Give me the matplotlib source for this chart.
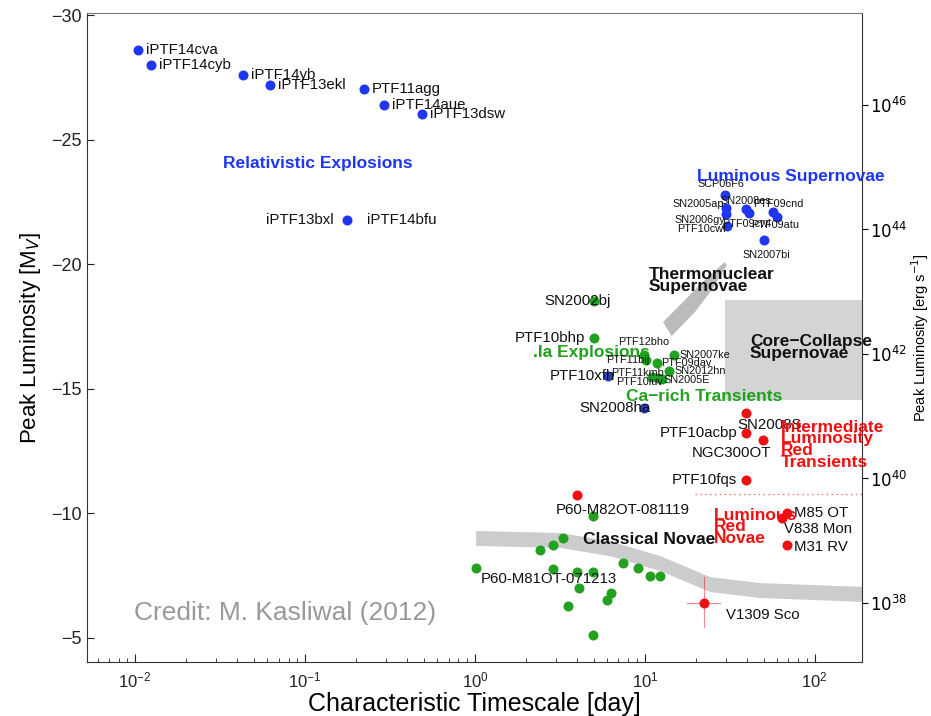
import matplotlib
matplotlib.use('Agg')
import matplotlib.pyplot as plt
import numpy as np

plt.rcParams['font.family'] = ['Liberation Sans', 'DejaVu Sans']

BLUE = '#1f36f2'
GREEN = '#21a11f'
RED = '#f01010'

# relativistic explosions (blue)
rel_names = ['iPTF14cva', 'iPTF14cyb', 'iPTF14yb', 'iPTF13ekl', 'PTF11agg', 'iPTF14aue', 'iPTF13dsw', 'iPTF14bfu']
rel_t = [0.0104, 0.0124, 0.0432, 0.0622, 0.222, 0.292, 0.488, 0.177]
rel_m = [-28.59, -27.99, -27.59, -27.19, -27.03, -26.39, -26.02, -21.77]

# luminous supernovae (blue)
lsn_names = ['SCP06F6', 'SN2005ap', 'SN2006gy', 'PTF10cwr', 'SN2008es', 'PTF09cwl', 'PTF09cnd', 'PTF09atu', 'SN2007bi']
lsn_t = [29.6, 29.9, 30.2, 30.4, 39.3, 40.9, 56.6, 59.7, 50.1]
lsn_m = [-22.77, -22.25, -22.0, -21.53, -22.21, -22.05, -22.09, -21.89, -20.96]

# .Ia explosions and Ca-rich transients (green)
ia_names = ['SN2002bj', 'PTF10bhp', 'PTF12bho', 'PTF11bij', 'PTF09dav', 'SN2007ke', 'SN2012hn', 'PTF11kmb', 'PTF10iuv', 'SN2005E']
ia_t = [5.01, 5.01, 9.86, 10.1, 11.8, 14.8, 13.8, 11.1, 11.9, 12.7]
ia_m = [-18.51, -17.03, -16.35, -16.14, -16.02, -16.35, -15.70, -15.46, -15.42, -15.38]

# other blue points
oth_names = ['PTF10xfh', 'SN2008ha']
oth_t = [6.06, 9.86]
oth_m = [-15.50, -14.22]

# red transients
red_names = ['SN2008S', 'PTF10acbp', 'NGC300OT', 'PTF10fqs', 'M85 OT', 'V838 Mon', 'M31 RV', 'P60-M82OT-081119', 'V1309 Sco']
red_t = [39.3, 39.3, 49.4, 39.3, 68.4, 63.9, 68.4, 3.98, 22.2]
red_m = [-14.02, -13.21, -12.93, -11.33, -10.0, -9.8, -8.71, -10.72, -6.39]

# V1309 Sco error bars
v1309_t_range = [17.7, 27.6]
v1309_m_range = [-7.43, -5.42]

# classical novae (green)
nova_t = [4.94, 3.29, 2.88, 2.41, 1.01, 2.88, 3.98, 4.94, 7.42, 9.1, 10.8, 12.3, 4.09, 6.31, 5.97, 3.52, 4.94]
nova_m = [-9.88, -9.0, -8.71, -8.51, -7.79, -7.75, -7.63, -7.63, -7.99, -7.79, -7.47, -7.47, -6.99, -6.79, -6.51, -6.27, -5.10]

# shaded regions
novae_band_t = [1.01, 3.16, 6.22, 12.3, 24.1, 47.5, 200]
novae_band_m = [-9.0, -8.92, -8.59, -7.99, -7.15, -6.91, -6.75]
thermo_t = [12.8, 17.2, 22.5, 29.5, 30.4, 24.8, 19.7, 14.4]
thermo_m = [-17.67, -18.55, -19.36, -20.08, -19.96, -18.96, -18.07, -17.11]
cc_t = [29.5, 200]
cc_m = [-18.55, -14.54]
lrn_line_t = [19.7, 200]
lrn_line_m = -10.76

fig = plt.figure(figsize=(9.31, 7.16), dpi=100)
ax = fig.add_axes([0.0934, 0.0754, 0.8325, 0.9064])
ax.set_xscale('log')
ax.set_xlim(0.0052, 190)
ax.set_ylim(-4.02, -30.08)

# gray regions
ax.fill_between(novae_band_t, np.array(novae_band_m) - 0.3, np.array(novae_band_m) + 0.3,
                color='#cccccc', lw=0, zorder=1)
ax.fill(thermo_t, thermo_m, color='#bbbbbb', lw=0, zorder=1)
ax.fill_between(cc_t, cc_m[0], cc_m[1], color='#d4d4d4', lw=0, zorder=1)
ax.plot(lrn_line_t, [lrn_line_m, lrn_line_m], ls=(0, (1, 2.5)), color=RED, lw=1, alpha=0.6, zorder=1)

ms = 52
ax.scatter(rel_t, rel_m, s=ms, color=BLUE, zorder=3, lw=0)
ax.scatter(lsn_t, lsn_m, s=ms, color=BLUE, zorder=3, lw=0)
ax.scatter(ia_t, ia_m, s=ms, color=GREEN, zorder=3, lw=0)
ax.scatter(oth_t, oth_m, s=ms, color='#2a3ccc', zorder=3, lw=0)
ax.scatter(nova_t, nova_m, s=ms, color=GREEN, zorder=3, lw=0)
ax.scatter(red_t, red_m, s=ms, color=RED, zorder=3, lw=0)
ax.plot(v1309_t_range, [red_m[-1]] * 2, color=RED, lw=0.8, alpha=0.5, zorder=2)
ax.plot([red_t[-1]] * 2, v1309_m_range, color=RED, lw=0.8, alpha=0.5, zorder=2)

def lab(name, t, m, dx, dy, ha='left', fs=10.8):
    ax.annotate(name, (t, m), xytext=(dx, dy), textcoords='offset points',
                ha=ha, va='center', fontsize=fs, color='#111111', zorder=4)

# relativistic labels
for n, t, m in zip(rel_names[:-1], rel_t[:-1], rel_m[:-1]):
    lab(n, t, m, 6, 0)
lab('iPTF14bfu', rel_t[-1], rel_m[-1], 14, 0)
lab('iPTF13bxl', rel_t[-1], rel_m[-1], -10, 0, ha='right')

# luminous SN labels
sfs = 7.8
lab('SCP06F6', lsn_t[0], lsn_m[0], -3, 8, ha='center', fs=sfs)
lab('SN2005ap', lsn_t[1], lsn_m[1], -1, 3, ha='right', fs=sfs)
lab('SN2006gy', lsn_t[2], lsn_m[2], -1, -4, ha='right', fs=sfs)
lab('PTF10cwr', lsn_t[3], lsn_m[3], 0, -2, ha='right', fs=sfs)
lab('SN2008es', lsn_t[4], lsn_m[4], 0, 6, ha='center', fs=sfs)
lab('PTF09cwl', lsn_t[5], lsn_m[5], -2, -8, ha='center', fs=sfs)
lab('PTF09cnd', lsn_t[6], lsn_m[6], 4, 6, ha='center', fs=sfs)
lab('PTF09atu', lsn_t[7], lsn_m[7], -1, -6, ha='center', fs=sfs)
lab('SN2007bi', lsn_t[8], lsn_m[8], 2, -11, ha='center', fs=sfs)

# .Ia / Ca-rich labels
lab('SN2002bj', ia_t[0], ia_m[0], 12, 0, ha='right')
lab('PTF10bhp', ia_t[1], ia_m[1], -6, 0, ha='right')
lab('PTF12bho', ia_t[2], ia_m[2], 0, 9, ha='center', fs=sfs)
lab('PTF11bij', ia_t[3], ia_m[3], 3, 0, ha='right', fs=sfs)
lab('PTF09dav', ia_t[4], ia_m[4], 3, 0, fs=sfs)
lab('SN2007ke', ia_t[5], ia_m[5], 4, 0, fs=sfs)
lab('SN2012hn', ia_t[6], ia_m[6], 4, 0, fs=sfs)
lab('PTF11kmb', ia_t[7], ia_m[7], 8, 3, ha='right', fs=sfs)
lab('PTF10iuv', ia_t[8], ia_m[8], 4, -3, ha='right', fs=sfs)
lab('SN2005E', ia_t[9], ia_m[9], 1, -1, fs=sfs)
lab('PTF10xfh', oth_t[0], oth_m[0], 5, 0, ha='right')
lab('SN2008ha', oth_t[1], oth_m[1], 5, 0, ha='right')

# red labels
lab('SN2008S', red_t[0], red_m[0], -6, -9)
lab('PTF10acbp', red_t[1], red_m[1], -6, 0, ha='right')
lab('NGC300OT', red_t[2], red_m[2], 6, -9, ha='right')
lab('PTF10fqs', red_t[3], red_m[3], -6, 0, ha='right')
lab('M85 OT', red_t[4], red_m[4], 5, 0)
lab('V838 Mon', red_t[5], red_m[5], 2, -8)
lab('M31 RV', red_t[6], red_m[6], 5, -1)
lab('P60-M82OT-081119', red_t[7], red_m[7], -15, -11)
lab('V1309 Sco', red_t[8], red_m[8], 16, -9)
lab('P60-M81OT-071213', nova_t[4], nova_m[4], 4, -8)

# region labels
bold = dict(fontweight='bold', fontsize=12.5, zorder=4)
ax.text(0.119, -24.05, 'Relativistic Explosions', color=BLUE, ha='center', va='center', **bold)
ax.text(72, -23.5, 'Luminous Supernovae', color=BLUE, ha='center', va='center', **bold)
ax.text(10.5, -19.35, 'Thermonuclear\nSupernovae', color='#111111', ha='left', va='center',
        linespacing=0.75, **bold)
ax.text(41.5, -16.65, 'Core\u2212Collapse\nSupernovae', color='#111111', ha='left', va='center',
        linespacing=0.75, clip_on=False, **bold)
ax.text(2.19, -16.43, '.Ia Explosions', color=GREEN, ha='left', va='center', zorder=2,
        fontweight='bold', fontsize=12.5)
ax.text(7.8, -14.7, 'Ca\u2212rich Transients', color=GREEN, ha='left', va='center', **bold)
ax.text(63.1, -12.75, 'Intermediate\nLuminosity\nRed\nTransients', color=RED, ha='left', va='center',
        linespacing=0.72, clip_on=False, **bold)
ax.text(25.5, -9.45, 'Luminous\nRed\nNovae', color=RED, ha='left', va='center',
        linespacing=0.72, **bold)
ax.text(4.3, -8.95, 'Classical Novae', color='#111111', ha='left', va='center', **bold)
ax.text(0.0098, -6.0, 'Credit: M. Kasliwal (2012)', color='#999999', fontsize=19, ha='left', va='center')

# axes styling
for s in ax.spines.values():
    s.set_color('#333333')
ax.spines['top'].set_color('#777777')
ax.tick_params(axis='both', which='both', direction='in', labelsize=13, colors='#222222')
ax.tick_params(axis='x', which='major', length=6, pad=6, labelsize=12)
ax.tick_params(axis='x', which='minor', length=3)
ax.tick_params(axis='y', which='major', length=5)
ax.tick_params(top=False, right=False)
ax.set_yticks([-30, -25, -20, -15, -10, -5])
ax.set_yticklabels(['\u221230', '\u221225', '\u221220', '\u221215', '\u221210', '\u22125'])
ax.set_xlabel('Characteristic Timescale [day]', fontsize=18, labelpad=1)
ax.set_ylabel('Peak Luminosity [M$_V$]', fontsize=16, labelpad=6)

# right axis: luminosity
lum_exp = [38, 40, 42, 44, 46]
ax2 = ax.twinx()
ax2.set_ylim(ax.get_ylim())
ax2.set_yticks([-11.4 - 2.5 * (e - 40) for e in lum_exp])
ax2.set_yticklabels(['$10^{%d}$' % e for e in lum_exp])
ax2.tick_params(axis='y', direction='out', length=4, labelsize=12, pad=2)
for s in ax2.spines.values():
    s.set_visible(False)
ax2.set_ylabel('Peak Luminosity [erg s$^{-1}$]', fontsize=10.5, labelpad=1)

fig.savefig('out.png', dpi=100)
